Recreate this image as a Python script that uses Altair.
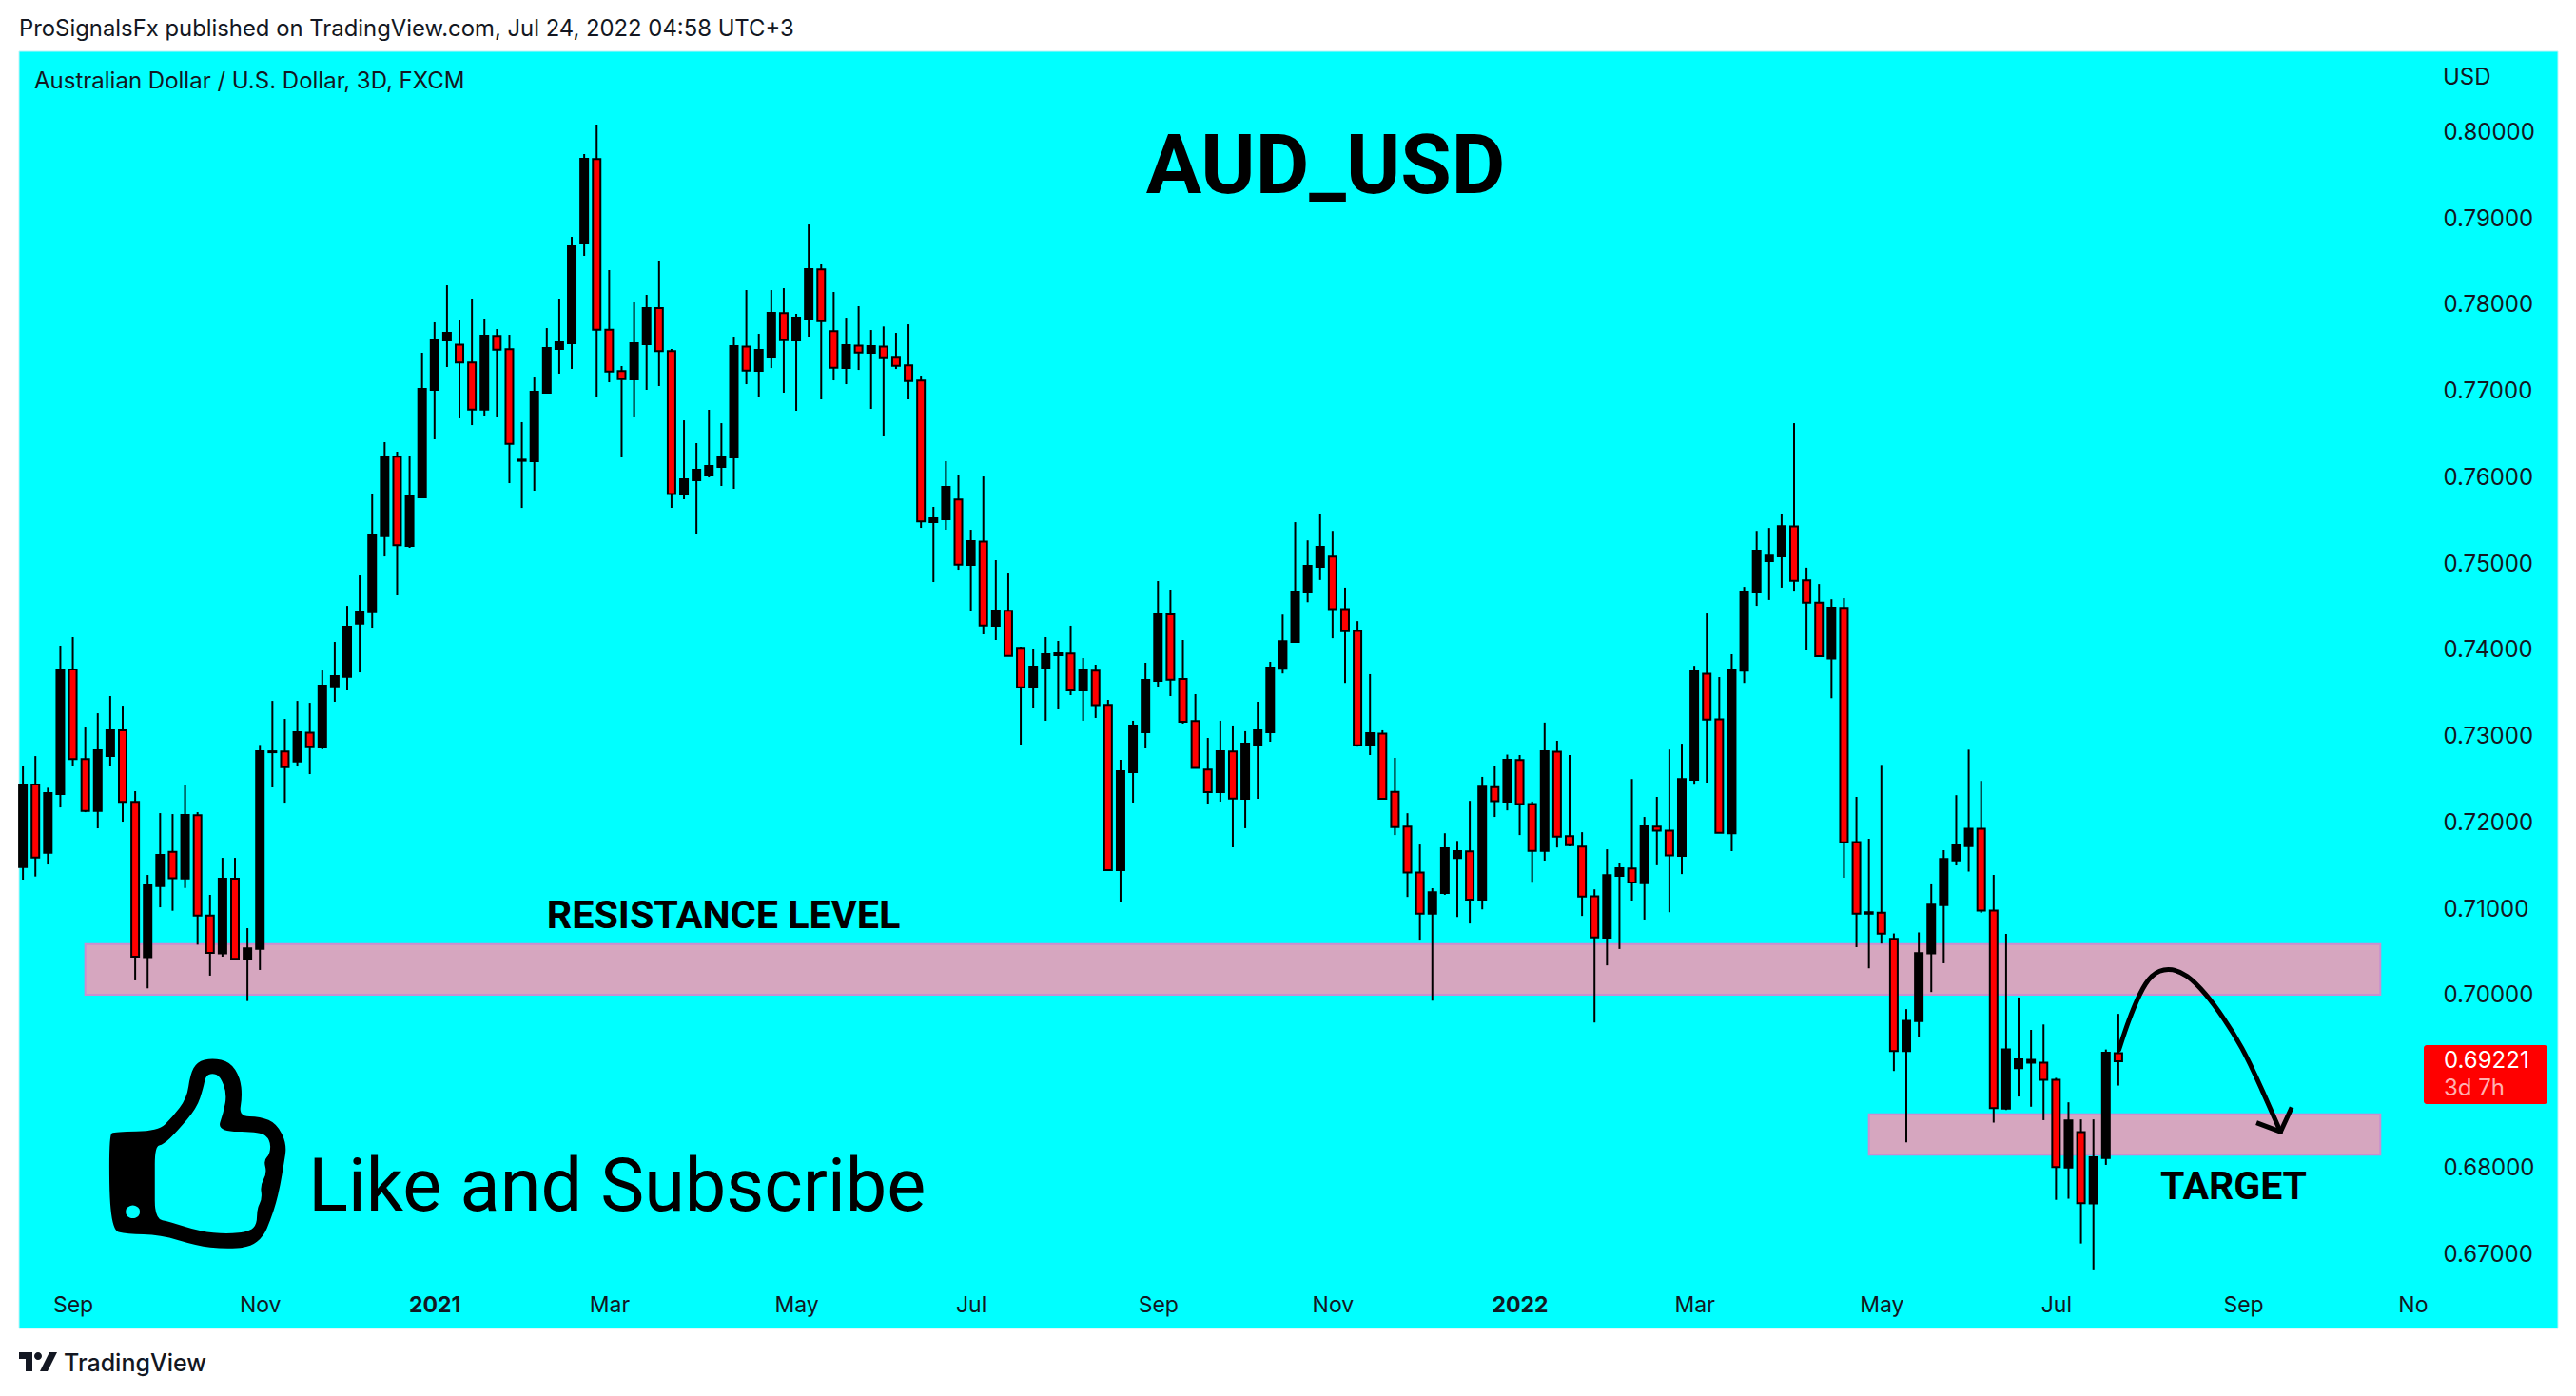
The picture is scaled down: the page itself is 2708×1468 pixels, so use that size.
import altair as alt
import pandas as pd

highs = [.72647,.72757,.72390,.74036,.74135,.73088,.73253,.73452,.73341,.72350,
.71380,.72096,.72085,.72427,.72107,.71149,.71578,.71578,.70763,.72886,
.73396,.73187,.73396,.73374,.73749,.74080,.74498,.74851,.75788,.76394,
.76284,.76229,.77430,.77783,.78212,.77816,.78058,.77827,.77705,.77639,
.76626,.77154,.77716,.78058,.78774,.79733,.80075,.78389,.77276,.78014,
.78102,.78499,.77474,.76647,.76383,.76769,.76614,.77617,.78157,.77650,
.78157,.78179,.77882,.78917,.78455,.78135,.77837,.77970,.77694,.77735,
.77661,.77760,.77165,.75645,.76174,.76019,.75380,.75997,.75028,.74873,
.74025,.74003,.74135,.74091,.74268,.73893,.73816,.73408,.72714,.73166,
.73838,.74785,.74686,.74102,.73474,.72967,.73166,.73111,.73045,.73386,
.73849,.74397,.75468,.75257,.75557,.75367,.74709,.74321,.73706,.73056,
.72736,.72095,.71732,.71226,.71863,.71774,.72238,.72516,.72647,.72774,
.72769,.72230,.73145,.72934,.72769,.71875,.71213,.71677,.71513,.72491,
.72052,.72284,.72833,.72900,.73803,.74410,.73672,.73937,.74718,.75367,
.75401,.75565,.76614,.74941,.74751,.74574,.74587,.72284,.71799,.72655,
.70702,.69825,.70714,.71271,.71667,.72304,.72831,.72469,.71381,.70697,
.69960,.69584,.69647,.69028,.68745,.68547,.68547,.69357,.69770]

lows = [.71325,.71362,.71501,.72162,.72647,.72107,.71920,.72647,.71997,.70158,
.70066,.71005,.70965,.71229,.70572,.70213,.70433,.70389,.69919,.70279,
.72394,.72217,.72636,.72548,.72835,.73386,.73518,.73727,.74245,.75071,
.74620,.75171,.75744,.76427,.77265,.76670,.76592,.76703,.76692,.75920,
.75633,.75832,.76967,.77188,.77243,.78554,.76923,.77088,.76218,.76692,
.77000,.77044,.75634,.75733,.75325,.75986,.75887,.75854,.77066,.76912,
.77253,.76967,.76758,.77617,.76890,.77110,.77066,.77231,.76780,.76460,
.77242,.76890,.75402,.74774,.75380,.74917,.74444,.74168,.74102,.73918,
.72890,.73309,.73166,.73298,.73463,.73166,.73199,.71425,.71061,.72218,
.72846,.73562,.73452,.73133,.72619,.72207,.72229,.71700,.71921,.72262,
.72923,.73714,.74081,.74540,.74798,.74123,.73604,.72866,.72769,.72263,
.71842,.71125,.70619,.69923,.71150,.70893,.70817,.70981,.72052,.72128,
.71842,.71289,.71546,.71698,.71711,.70905,.69670,.70332,.70522,.71083,
.70863,.71492,.70948,.71390,.72436,.72449,.71867,.71656,.73604,.74498,
.74566,.74709,.74663,.73992,.73904,.73427,.71348,.70543,.70298,.70585,
.69108,.68281,.69496,.70023,.70356,.71490,.71419,.70942,.68509,.68656,
.68812,.68694,.68538,.67615,.67628,.67109,.66809,.68020,.68939]

opens = [.71472,.72427,.71637,.72317,.73760,.72721,.72122,.72757,.73055,.72225,
.70426,.71251,.71648,.71340,.72071,.70910,.70470,.71336,.70404,.70525,
.72801,.72809,.72695,.73029,.72857,.73565,.73676,.74293,.74425,.75306,
.76225,.75193,.75755,.77000,.77573,.77525,.77316,.76772,.77625,.77470,
.76178,.76174,.76967,.77474,.77540,.78697,.79674,.77698,.77217,.77121,
.77529,.77948,.77448,.75788,.75953,.76008,.76107,.76218,.77503,.77220,
.77386,.77889,.77573,.77826,.78396,.77680,.77253,.77514,.77430,.77503,
.77382,.77283,.77107,.75468,.75501,.75729,.74973,.75244,.74267,.74440,
.74011,.73551,.73783,.73926,.73944,.73518,.73746,.73349,.71436,.72571,
.73034,.73629,.74400,.73651,.73162,.72600,.72339,.72809,.72262,.72890,
.73034,.73769,.74081,.74654,.74950,.75068,.74460,.74207,.72879,.73018,
.72343,.71939,.71407,.70931,.71171,.71576,.71652,.71095,.72398,.72230,
.72710,.72200,.71660,.72807,.71829,.71707,.71133,.70652,.71369,.71454,
.71285,.71939,.71892,.71601,.72483,.73710,.73183,.71863,.73748,.74654,
.75017,.75072,.75418,.74794,.74536,.73887,.74473,.71761,.70931,.70943,
.70638,.69340,.69685,.70470,.71031,.71549,.71714,.71916,.70967,.68673,
.69141,.69205,.69205,.69006,.67990,.68399,.67573,.68100,.69314]

closes = [.72427,.71582,.72328,.73760,.72721,.72122,.72823,.73055,.72225,.70433,
.71259,.71611,.71343,.72074,.70910,.70477,.71336,.70407,.70528,.72812,
.72812,.72629,.73033,.72860,.73573,.73683,.74256,.74432,.75314,.76229,
.75200,.75766,.77011,.77584,.77661,.77316,.76772,.77628,.77467,.76376,
.76192,.76978,.77485,.77551,.78664,.79678,.77698,.77213,.77125,.77540,
.77948,.77448,.75795,.75964,.76074,.76118,.76229,.77507,.77224,.77463,
.77893,.77577,.77837,.78399,.77797,.77257,.77518,.77433,.77507,.77378,
.77279,.77103,.75476,.75512,.75876,.74976,.75248,.74271,.74444,.73918,
.73555,.73794,.73937,.73948,.73518,.73750,.73346,.71436,.72582,.73111,
.73640,.74400,.73643,.73155,.72619,.72339,.72813,.72266,.72901,.73056,
.73783,.74089,.74663,.74962,.75181,.74460,.74203,.72883,.73022,.72263,
.71934,.71407,.70931,.71180,.71690,.71656,.71095,.72402,.72234,.72715,
.72200,.71660,.72812,.71825,.71724,.71129,.70657,.71378,.71458,.71293,
.71943,.71892,.71605,.72491,.73739,.73178,.71867,.73760,.74663,.75139,
.75080,.75422,.74789,.74536,.73916,.74477,.71757,.70931,.70948,.70699,
.69340,.69690,.70474,.71035,.71566,.71722,.71916,.70967,.68678,.69357,
.69243,.69238,.69006,.67994,.68534,.67577,.68108,.69319,.69221]

price_ticks = [.80,.79,.78,.77,.76,.75,.74,.73,.72,.71,.70,.68,.67]
time_labels = ["Sep","Nov","2021","Mar","May","Jul","Sep","Nov","2022","Mar","May","Jul","Sep","No"]
time_bars = [4,19,33,47,62,76,91,105,120,134,149,163,178,191.6]
bold_bars = [33,120]

band_start = [5,148]
band_end = [189,189]
band_top = [.70580,.68606]
band_bottom = [.69992,.68138]

arrow_bar = [168.04,168.8,169.7,170.6,172.0,173.5,175.0,176.4,177.9,179.4,181.0]
arrow_price = [.69352,.69690,.70006,.70230,.70310,.70230,.70006,.69732,.69394,.68931,.68403]
head_bar = [179.07,181.0,181.9]
head_price = [.68509,.68403,.68686]

INK = "#131722"
UI = "Inter"

candles = pd.DataFrame({"bar": range(len(opens)), "open": opens, "high": highs, "low": lows, "close": closes})
candles["dir"] = ["up" if c >= o else "down" for o, c in zip(opens, closes)]

x_scale = alt.Scale(domain=[-1.228, 204.08], nice=False, zero=False, padding=0)
y_scale = alt.Scale(domain=[0.6543, 0.8143], nice=False, zero=False, padding=0)
label_map = "{" + ",".join(f"'{b}':'{t}'" for b, t in zip(time_bars, time_labels)) + "}"
bold_test = "||".join(f"datum.value=={b}" for b in bold_bars)

x_axis = alt.Axis(title=None, values=time_bars, labelExpr=f"{label_map}[datum.value]",
                  domain=False, ticks=False, grid=False, labelPadding=0, offset=-88,
                  labelBaseline="middle", labelFont=UI, labelFontSize=23, labelColor=INK,
                  labelOverlap=False, labelFlush=False, zindex=1,
                  labelFontWeight={"condition": {"test": bold_test, "value": "bold"}, "value": "normal"})
y_axis = alt.Axis(title=None, orient="right", values=price_ticks, format=".5f", domain=False,
                  ticks=False, grid=False, labelPadding=0, offset=-132, labelAlign="left",
                  labelFont=UI, labelFontSize=24, labelColor=INK, labelOverlap=False, labelOffset=1.5,
                  labelFlush=False, zindex=1)

X = lambda f: alt.X(f, scale=x_scale, axis=x_axis)
Y = lambda f: alt.Y(f, scale=y_scale, axis=y_axis)


def one():
    return pd.DataFrame({"k": [0]})


def page_text(text, px, py, size, font=UI, color=INK, weight="normal", align="left"):
    return alt.Chart(pd.DataFrame({"t": [text]})).mark_text(
        font=font, fontSize=size, color=color, fontWeight=weight, align=align, baseline="middle"
    ).encode(x=alt.value(px - 8), y=alt.value(py - 8), text="t:N")


def chart_text(text, bar, price, size, font="Roboto", weight="bold", align="center"):
    return alt.Chart(pd.DataFrame({"t": [text], "b": [bar], "p": [price]})).mark_text(
        font=font, fontSize=size, color="black", fontWeight=weight, align=align, baseline="middle"
    ).encode(x=X("b:Q"), y=Y("p:Q"), text="t:N")


def smooth(points, cx, cy, sx, sy):
    pts = [((a - cx) * sx, (b - cy) * sy) for a, b in points]
    n = len(pts)
    mid = lambda p, q: ((p[0] + q[0]) / 2, (p[1] + q[1]) / 2)
    s = mid(pts[-1], pts[0])
    d = f"M{s[0]:.4f} {s[1]:.4f}"
    for i in range(n):
        m = mid(pts[i], pts[(i + 1) % n])
        d += f"Q{pts[i][0]:.4f} {pts[i][1]:.4f} {m[0]:.4f} {m[1]:.4f}"
    return d + "Z"


thumb_outer = [(172,420),(237,418),(258,375),(280,315),(285,240),(295,200),(318,187),(345,200),(360,250),
               (363,310),(358,372),(390,372),(415,395),(430,460),(425,525),(420,590),(413,650),(405,700),
               (395,750),(375,785),(335,790),(295,780),(240,745),(190,743),(165,730),(163,430)]
thumb_inner = [(232,467),(245,460),(265,420),(295,345),(305,280),(308,245),(318,235),(330,245),(340,300),
               (335,360),(325,420),(390,420),(405,445),(405,490),(395,510),(400,550),(390,590),(393,630),
               (385,665),(385,710),(375,735),(340,743),(300,735),(255,705),(232,695),(232,580)]
thumb_hole = [(199,651),(208,658),(210,673),(208,688),(199,695),(190,688),(188,673),(190,658)]
thumb_path = " ".join([
    smooth(thumb_outer, 297.9, 490.5, 0.00698, 0.003317),
    smooth(thumb_inner[::-1], 297.9, 490.5, 0.00698, 0.003317),
    smooth(thumb_hole[::-1], 297.9, 490.5, 0.00698, 0.003317),
])
logo_path = ("M-1 -.5L-.3 -.5L-.3 .5L-.65 .5L-.65 -.15L-1 -.15Z "
             "M-.2 -.3A.2 .2 0 1 1 .2 -.3A.2 .2 0 1 1 -.2 -.3Z "
             "M.6 -.5L1 -.5L.5 .5L.1 .5Z")

panel = alt.Chart(one()).mark_rect(fill="#00FFFF", stroke="#BFF3F7", strokeWidth=1).encode(
    x=alt.value(12), x2=alt.value(2681), y=alt.value(46), y2=alt.value(1389))

bands = alt.Chart(pd.DataFrame({"a": band_start, "b": band_end, "t": band_top, "u": band_bottom})).mark_rect(
    fill="#D6A6BF", stroke="#C88FD0", strokeWidth=2
).encode(x=X("a:Q"), x2="b:Q", y=Y("t:Q"), y2="u:Q")

wicks = alt.Chart(candles).mark_rule(color="black", strokeWidth=2).encode(x=X("bar:Q"), y=Y("high:Q"), y2="low:Q")
bodies = alt.Chart(candles).mark_bar(size=8, stroke="black", strokeWidth=2).encode(
    x=X("bar:Q"), y=Y("open:Q"), y2="close:Q",
    fill=alt.Fill("dir:N", scale=alt.Scale(domain=["up", "down"], range=["#000000", "#FF0000"]), legend=None))

arrow = alt.Chart(pd.DataFrame({"b": arrow_bar, "p": arrow_price, "n": range(len(arrow_bar))})).mark_line(
    color="black", strokeWidth=5, interpolate="basis", strokeCap="round"
).encode(x=X("b:Q"), y=Y("p:Q"), order="n:Q")
head = alt.Chart(pd.DataFrame({"b": head_bar, "p": head_price, "n": range(len(head_bar))})).mark_line(
    color="black", strokeWidth=5, strokeCap="butt", strokeJoin="round"
).encode(x=X("b:Q"), y=Y("p:Q"), order="n:Q")

thumb = alt.Chart(pd.DataFrame({"b": [14.1], "p": [.68146]})).mark_point(
    shape=thumb_path, filled=True, fill="black", opacity=1, strokeWidth=0, size=201 ** 2
).encode(x=X("b:Q"), y=Y("p:Q"))

logo = alt.Chart(one()).mark_point(shape=logo_path, filled=True, fill=INK, opacity=1, strokeWidth=0, size=40 ** 2).encode(
    x=alt.value(32), y=alt.value(1424))

tag = alt.Chart(one()).mark_rect(fill="#FF0000", cornerRadius=3).encode(
    x=alt.value(2540), x2=alt.value(2670), y=alt.value(1091), y2=alt.value(1153))

chart = alt.layer(
    panel, bands, wicks, bodies, arrow, head, thumb, logo, tag,
    page_text("ProSignalsFx published on TradingView.com, Jul 24, 2022 04:58 UTC+3", 20, 31, 23.85),
    page_text("Australian Dollar / U.S. Dollar, 3D, FXCM", 36, 86, 24),
    page_text("USD", 2568, 82, 24),
    page_text("0.69221", 2569, 1116, 24, color="white"),
    page_text("3d 7h", 2569, 1145, 24, color="#FFB0B0"),
    page_text("TradingView", 67, 1434, 25, weight=500),
    chart_text("AUD_USD", 104.44, .7957, 87),
    chart_text("RESISTANCE LEVEL", 56.16, .70897, 41.3),
    chart_text("TARGET", 177.24, .67750, 41),
    chart_text("Like and Subscribe", 22.9, .67744, 77.4, font="Roboto", weight="normal", align="left"),
).properties(
    width=2692, height=1452, padding=0, background="white",
    autosize=alt.AutoSizeParams(type="none")
).configure_view(strokeWidth=0)

chart.save("out.html", embed_options={"renderer": "svg", "actions": False})
